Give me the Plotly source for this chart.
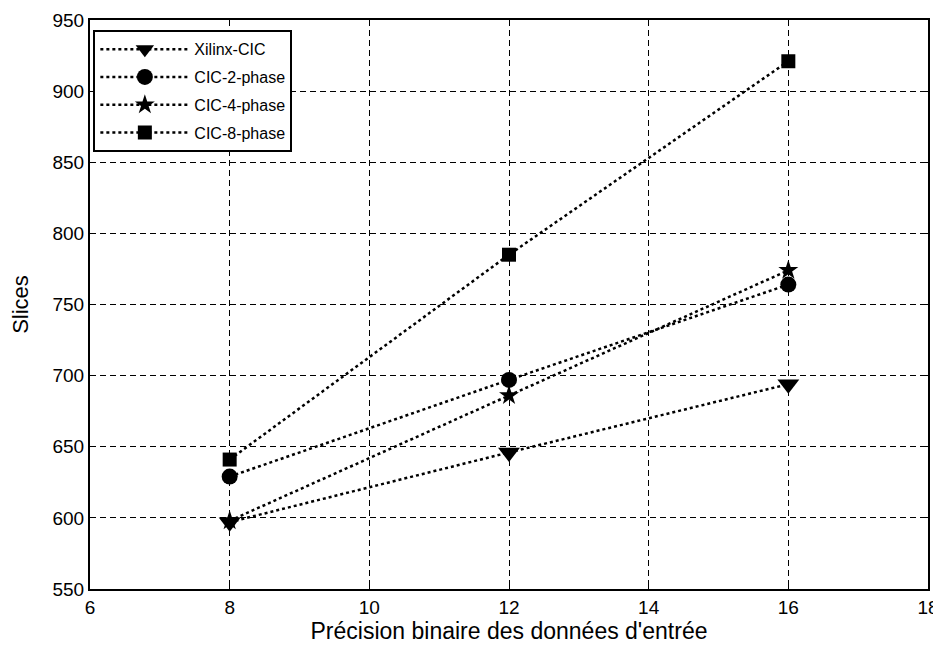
import plotly.graph_objects as go

x_vals = [8, 12, 16]
xilinx = [597, 646, 694]
cic2 = [629, 697, 764]
cic4 = [598, 686, 774]
cic8 = [641, 785, 921]
names = ["Xilinx-CIC", "CIC-2-phase", "CIC-4-phase", "CIC-8-phase"]
symbols = ["triangle-down", "circle", "star", "square"]
sizes = [19, 16, 15, 14]

FONT = "Liberation Sans"
fig = go.Figure()
for i, (name, ys, sym, sz) in enumerate(zip(names, [xilinx, cic2, cic4, cic8], symbols, sizes)):
    fig.add_trace(go.Scatter(
        x=x_vals, y=ys, name=name, mode="lines+markers", legendgroup=f"g{i}",
        line=dict(color="black", width=2.5, dash="dot"),
        marker=dict(symbol=sym, size=sz, color="black"),
    ))

axis_common = dict(
    showline=True, linecolor="black", linewidth=2, mirror="ticks",
    ticks="inside", ticklen=5, tickcolor="black", automargin=False,
    showgrid=True, gridcolor="black", griddash="6px,4px", gridwidth=1.3,
    zeroline=False, tickfont=dict(size=19, color="black", family=FONT),
)
fig.update_xaxes(range=[6, 18], dtick=2,
                 title=dict(text="Précision binaire des données d'entrée", font=dict(size=23, color="black", family=FONT), standoff=0),
                 **axis_common)
fig.update_yaxes(range=[550, 950], dtick=50,
                 title=dict(text="Slices", font=dict(size=22, color="black", family=FONT), standoff=21),
                 **axis_common)
fig.update_layout(
    width=933, height=637,
    margin=dict(l=82, r=13, t=12, b=56),
    paper_bgcolor="white", plot_bgcolor="white",
    font=dict(family=FONT, color="black"),
    showlegend=True,
    legend=dict(x=0.004, y=0.982, xanchor="left", yanchor="top",
                bordercolor="black", borderwidth=2, bgcolor="white",
                font=dict(size=16, family=FONT, color="black"),
                itemwidth=89, tracegroupgap=4, traceorder="grouped"),
)
fig.write_html("out.html")
